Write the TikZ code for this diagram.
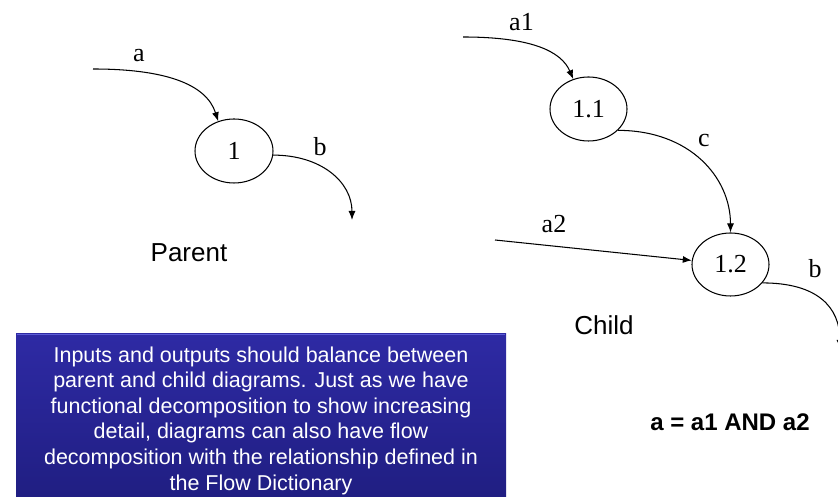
\documentclass[tikz,border=0pt]{standalone}
\usepackage{fontspec}
\setmainfont{Liberation Serif}
\setsansfont{Liberation Sans}
\usetikzlibrary{shapes.geometric,arrows.meta}
\definecolor{boxtop}{RGB}{46,42,164}
\definecolor{boxbot}{RGB}{32,30,130}
\definecolor{boxrim}{RGB}{92,92,214}
\begin{document}
\begin{tikzpicture}[x=1pt,y=1pt,
  proc/.style={draw,ellipse,line width=1.05pt,inner sep=0pt,font=\fontsize{26}{30}\selectfont},
  flow/.style={->,line width=1.05pt,>={Latex[length=9pt,width=7pt]}},
  lbl/.style={anchor=base,inner sep=0pt,font=\fontsize{26}{30}\selectfont},
  title/.style={anchor=base,inner sep=0pt,font=\sffamily\fontsize{26}{30}\selectfont}]
\useasboundingbox (0,0) rectangle (838,497);
% note box
\shade[top color=boxtop,bottom color=boxbot] (16,0) rectangle (506,163);
\draw[boxrim,line width=1.2pt] (16.6,162.4) -- (505.4,162.4);
\node[text=white,inner sep=0pt,align=center,font=\sffamily\fontsize{21.5}{25.6}\selectfont] (note) at (261,76.5)
  {Inputs and outputs should balance between\\parent and child diagrams. Just as we have\\functional decomposition to show increasing\\detail, diagrams can also have flow\\decomposition with the relationship defined in\\the Flow Dictionary};
% parent
\node[proc,minimum width=78pt,minimum height=64pt] (p1) at (234,346) {1};
\coordinate (pin) at (93,428);
\coordinate (pout) at (352,277);
\draw[flow] (pin) .. controls +(70,0) and +(-12,38) .. (p1.118);
\draw[flow] (p1.-6) .. controls +(48,0) and +(0,38) .. (pout);
\node[lbl] (la) at (139,435) {a};
\node[lbl] (lb) at (320,341) {b};
\node[title] (parent) at (189,235) {Parent};
% child
\node[proc,minimum width=77pt,minimum height=64pt] (c11) at (588.5,388) {1.1};
\node[proc,minimum width=77pt,minimum height=63pt] (c12) at (730.5,232.5) {1.2};
\coordinate (cin1) at (463,460);
\coordinate (cin2) at (495,257);
\coordinate (cout) at (840,148);
\draw[flow] (cin1) .. controls +(68,0) and +(-12,28) .. (c11.117);
\draw[flow] (c11.-36) .. controls +(72,0) and +(0,55) .. (c12.north);
\draw[flow] (cin2) -- (c12.174);
\draw[flow] (c12.-30) .. controls +(55,0) and +(0,42) .. (cout);
\node[lbl] (la1) at (521.5,466) {a1};
\node[lbl] (lc) at (704,350) {c};
\node[lbl] (la2) at (554,264) {a2};
\node[lbl] (lb2) at (815,219) {b};
\node[title] (child) at (604,162) {Child};
\node[anchor=base,inner sep=0pt,font=\sffamily\bfseries\fontsize{24}{28}\selectfont] (eq) at (730,66) {a = a1 AND a2};
\end{tikzpicture}
\end{document}
